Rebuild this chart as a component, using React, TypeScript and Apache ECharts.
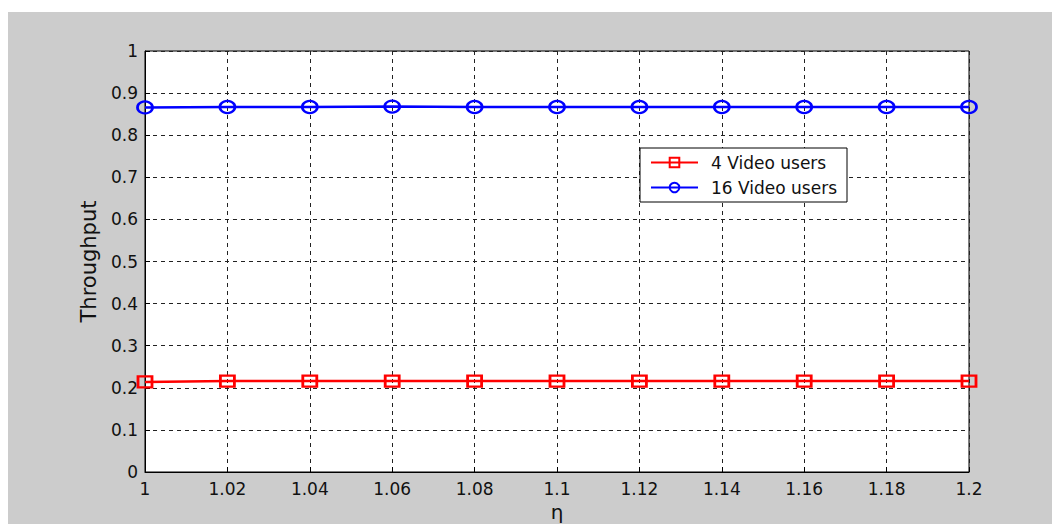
import React, { useEffect, useRef } from "react";
import * as echarts from "echarts";

const etaLabels = ["1", "1.02", "1.04", "1.06", "1.08", "1.1", "1.12", "1.14", "1.16", "1.18", "1.2"];
const users4 = [0.214, 0.216, 0.216, 0.216, 0.216, 0.216, 0.216, 0.216, 0.216, 0.216, 0.216];
const users16 = [0.866, 0.867, 0.867, 0.868, 0.867, 0.867, 0.867, 0.867, 0.867, 0.867, 0.867];
const seriesNames = ["4 Video users", "16 Video users"];

const FONT = "DejaVu Sans";

export default function App() {
  const ref = useRef<HTMLDivElement>(null);
  useEffect(() => {
    if (!ref.current) return;
    const chart = echarts.init(ref.current, null, { renderer: "svg" });
    const gridLine = { show: true, lineStyle: { color: "#222", type: [4, 4] as any, width: 1 } };
    chart.setOption({
      animation: false,
      backgroundColor: "#ffffff",
      graphic: [
        { type: "rect", z: -10, shape: { x: 0, y: 4, width: 1060, height: 530 }, style: { fill: "#cccccc" } },
      ],
      grid: {
        left: 137,
        top: 43,
        width: 824,
        height: 421,
        show: true,
        backgroundColor: "#ffffff",
        borderColor: "#000",
        borderWidth: 1,
        outerBoundsMode: "none",
      },
      legend: {
        data: seriesNames,
        orient: "vertical",
        left: 632,
        top: 140,
        padding: [6, 10, 6, 10],
        itemWidth: 47,
        itemHeight: 12,
        itemGap: 8,
        backgroundColor: "#ffffff",
        borderColor: "#000",
        borderWidth: 1,
        borderRadius: 0,
        textStyle: { fontFamily: FONT, fontSize: 17, color: "#111", padding: [0, 0, 0, 8] },
      },
      xAxis: {
        type: "category",
        data: etaLabels,
        boundaryGap: false,
        name: "η",
        nameLocation: "middle",
        nameGap: 24,
        nameTextStyle: { fontFamily: FONT, fontSize: 20, color: "#111" },
        axisLine: { show: true, lineStyle: { color: "#000", width: 1 } },
        axisTick: { show: true, inside: true, length: 5, lineStyle: { color: "#000" } },
        axisLabel: { fontFamily: FONT, fontSize: 17, color: "#111", margin: 8, interval: 0 },
        splitLine: { ...gridLine, interval: 0 },
      },
      yAxis: {
        type: "value",
        min: 0,
        max: 1,
        interval: 0.1,
        name: "Throughput",
        nameLocation: "middle",
        nameGap: 46,
        nameTextStyle: { fontFamily: FONT, fontSize: 21, color: "#111" },
        axisLine: { show: true, lineStyle: { color: "#000", width: 1 } },
        axisTick: { show: true, inside: true, length: 5, lineStyle: { color: "#000" } },
        axisLabel: { fontFamily: FONT, fontSize: 17, color: "#111", margin: 7 },
        splitLine: gridLine,
      },
      series: [
        {
          name: seriesNames[0],
          type: "line",
          data: users4,
          symbol: "rect",
          symbolSize: [14, 11],
          showAllSymbol: true,
          clip: false,
          lineStyle: { color: "#ff0000", width: 2.5 },
          itemStyle: { color: "rgba(255,255,255,0)", borderColor: "#ff0000", borderWidth: 2.5 },
        },
        {
          name: seriesNames[1],
          type: "line",
          data: users16,
          symbol: "circle",
          symbolSize: [15, 12],
          showAllSymbol: true,
          clip: false,
          lineStyle: { color: "#0000ff", width: 2.5 },
          itemStyle: { color: "rgba(255,255,255,0)", borderColor: "#0000ff", borderWidth: 2.5 },
        },
      ],
    });
    return () => chart.dispose();
  }, []);
  return <div ref={ref} style={{ width: 1052, height: 516 }} />;
}
